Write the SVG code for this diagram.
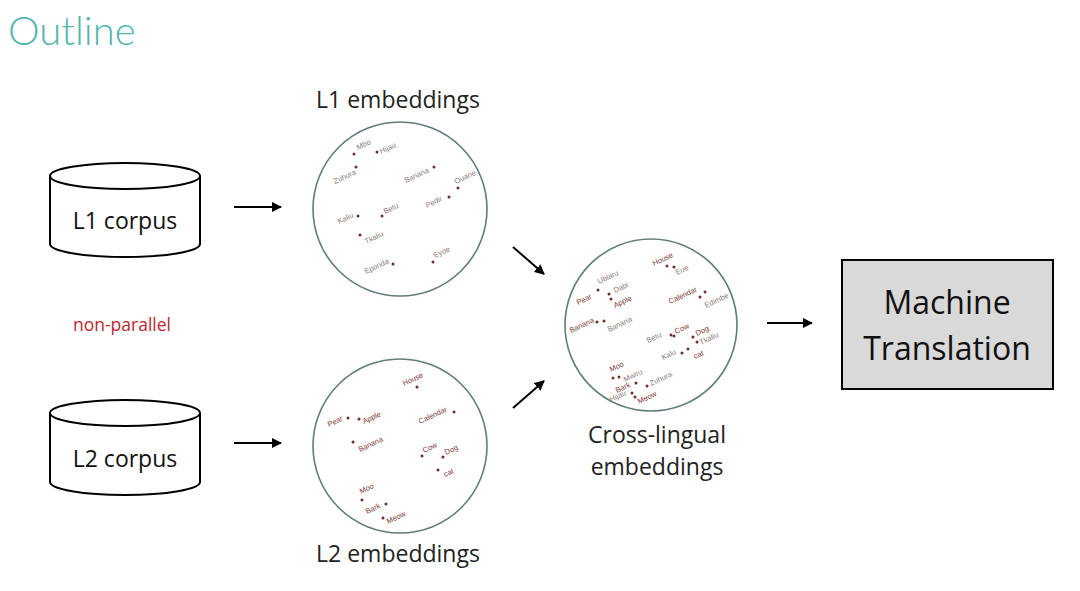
<svg xmlns="http://www.w3.org/2000/svg" width="1080" height="591" viewBox="0 0 1080 591">
<style>
.title{font-family:"Lato","Open Sans",sans-serif;font-weight:300;font-size:40px;fill:#52b6b0}
.lbl{font-family:"Open Sans","Liberation Sans",sans-serif;font-size:23px;fill:#222}
.corp{font-family:"Open Sans","Liberation Sans",sans-serif;font-size:23px;fill:#111;text-anchor:middle}
.mt{font-family:"Open Sans","Liberation Sans",sans-serif;font-size:32px;fill:#111;text-anchor:middle}
.np{font-family:"Open Sans","Liberation Sans",sans-serif;font-size:17.5px;fill:#c0262c}
.cyl{fill:#fff;stroke:#000;stroke-width:2}
.emb{fill:#fff;stroke:#5f7d7a;stroke-width:1.6}
.w{font-family:"Liberation Sans",sans-serif;font-size:7.5px;fill:#7a3a35}
.g{font-family:"Liberation Sans",sans-serif;font-size:7.5px;fill:#8a7a78}
.d{fill:#6b2e2a}
.conn line{stroke:#000;stroke-width:2;marker-end:url(#ah)}
</style>
<defs>
<marker id="ah" viewBox="0 0 10 10" refX="9" refY="5" markerWidth="5" markerHeight="5" orient="auto" markerUnits="strokeWidth">
<path d="M0,0 L10,5 L0,10 z" fill="#000"/>
</marker>
</defs>
<rect width="1080" height="591" fill="#fff"/>
<text class="title" x="8" y="45">Outline</text>

<g id="l1corpus">
<path class="cyl" d="M50,176 V244 A75,13 0 0 0 200,244 V176"/>
<ellipse class="cyl" cx="125" cy="176" rx="75" ry="13"/>
<text class="corp" x="125" y="229">L1 corpus</text>
</g>
<g id="l2corpus">
<path class="cyl" d="M50,413 V482 A75,13 0 0 0 200,482 V413"/>
<ellipse class="cyl" cx="125" cy="413" rx="75" ry="13"/>
<text class="corp" x="125" y="467">L2 corpus</text>
</g>
<g id="nonparallel"><text class="np" x="73" y="331">non-parallel</text></g>

<g id="l1emb">
<text class="lbl" x="398" y="108" text-anchor="middle">L1 embeddings</text>
<circle class="emb" cx="400" cy="209" r="87"/>
<g class="d">
<circle cx="354" cy="154" r="1.5"/><circle cx="377" cy="152" r="1.5"/><circle cx="356" cy="167" r="1.5"/>
<circle cx="434" cy="167" r="1.5"/><circle cx="458" cy="188" r="1.5"/><circle cx="449" cy="197" r="1.5"/>
<circle cx="358" cy="216" r="1.5"/><circle cx="382" cy="216" r="1.5"/><circle cx="360" cy="235" r="1.5"/>
<circle cx="393" cy="264" r="1.5"/><circle cx="433" cy="262" r="1.5"/>
</g>
<g class="g">
<text transform="translate(358,150) rotate(-25)">Mbo</text>
<text transform="translate(381,154) rotate(-25)">Hijau</text>
<text transform="translate(335,184) rotate(-25)">Zuhura</text>
<text transform="translate(406,183) rotate(-25)">Banana</text>
<text transform="translate(456,184) rotate(-25)">Ouane</text>
<text transform="translate(427,208) rotate(-25)">Pedir</text>
<text transform="translate(339,224) rotate(-25)">Kaliu</text>
<text transform="translate(385,214) rotate(-25)">Betu</text>
<text transform="translate(366,244) rotate(-25)">Tkaliu</text>
<text transform="translate(366,274) rotate(-25)">Eponda</text>
<text transform="translate(435,258) rotate(-25)">Eyoe</text>
</g>
</g>

<g id="l2emb">
<text class="lbl" x="398" y="562" text-anchor="middle">L2 embeddings</text>
<circle class="emb" cx="400" cy="446" r="87"/>
<g class="d">
<circle cx="417" cy="387" r="1.5"/><circle cx="348" cy="418" r="1.5"/><circle cx="359" cy="419" r="1.5"/>
<circle cx="353" cy="442" r="1.5"/><circle cx="454" cy="412" r="1.5"/><circle cx="422" cy="456" r="1.5"/>
<circle cx="443" cy="457" r="1.5"/><circle cx="438" cy="470" r="1.5"/><circle cx="362" cy="500" r="1.5"/>
<circle cx="386" cy="504" r="1.5"/><circle cx="383" cy="518" r="1.5"/>
</g>
<g class="w">
<text transform="translate(404,386) rotate(-25)">House</text>
<text transform="translate(329,427) rotate(-25)">Pear</text>
<text transform="translate(364,424) rotate(-25)">Apple</text>
<text transform="translate(360,452) rotate(-25)">Banana</text>
<text transform="translate(420,424) rotate(-25)">Calendar</text>
<text transform="translate(424,453) rotate(-25)">Cow</text>
<text transform="translate(446,455) rotate(-25)">Dog</text>
<text transform="translate(445,477) rotate(-25)">cat</text>
<text transform="translate(361,494) rotate(-25)">Moo</text>
<text transform="translate(367,514) rotate(-25)">Bark</text>
<text transform="translate(388,524) rotate(-25)">Meow</text>
</g>
</g>

<g id="crossemb">
<text class="lbl" x="657" y="443" text-anchor="middle">Cross-lingual</text>
<text class="lbl" x="657" y="475" text-anchor="middle">embeddings</text>
<circle class="emb" cx="651" cy="325" r="86"/>
<g class="d">
<circle cx="598" cy="290" r="1.5"/><circle cx="609" cy="294" r="1.5"/><circle cx="611" cy="299" r="1.5"/>
<circle cx="667" cy="266" r="1.5"/><circle cx="674" cy="267" r="1.5"/>
<circle cx="705" cy="292" r="1.5"/><circle cx="700" cy="297" r="1.5"/>
<circle cx="597" cy="322" r="1.5"/><circle cx="604" cy="321" r="1.5"/>
<circle cx="671" cy="335" r="1.5"/><circle cx="674" cy="336" r="1.5"/>
<circle cx="693" cy="337" r="1.5"/><circle cx="697" cy="342" r="1.5"/>
<circle cx="682" cy="353" r="1.5"/><circle cx="688" cy="349" r="1.5"/>
<circle cx="613" cy="378" r="1.5"/><circle cx="619" cy="377" r="1.5"/>
<circle cx="636" cy="383" r="1.5"/><circle cx="647" cy="386" r="1.5"/>
<circle cx="635" cy="397" r="1.5"/><circle cx="632" cy="393" r="1.5"/>
</g>
<g class="w">
<text transform="translate(578,305) rotate(-25)">Pear</text>
<text transform="translate(615,308) rotate(-25)">Apple</text>
<text transform="translate(654,266) rotate(-25)">House</text>
<text transform="translate(670,304) rotate(-25)">Calendar</text>
<text transform="translate(571,333) rotate(-25)">Banana</text>
<text transform="translate(676,334) rotate(-25)">Cow</text>
<text transform="translate(697,336) rotate(-25)">Dog</text>
<text transform="translate(695,359) rotate(-25)">cat</text>
<text transform="translate(611,372) rotate(-25)">Moo</text>
<text transform="translate(617,393) rotate(-25)">Bark</text>
<text transform="translate(639,404) rotate(-25)">Meow</text>
</g>
<g class="g">
<text transform="translate(599,284) rotate(-25)">Ublaru</text>
<text transform="translate(615,293) rotate(-25)">Dabi</text>
<text transform="translate(677,275) rotate(-25)">Eue</text>
<text transform="translate(706,308) rotate(-25)">Edimbe</text>
<text transform="translate(609,332) rotate(-25)">Banana</text>
<text transform="translate(648,343) rotate(-25)">Betu</text>
<text transform="translate(701,345) rotate(-25)">Tkaliu</text>
<text transform="translate(663,360) rotate(-25)">Kalu</text>
<text transform="translate(625,382) rotate(-25)">Mwiru</text>
<text transform="translate(651,386) rotate(-25)">Zuhura</text>
<text transform="translate(611,402) rotate(-25)">Hijau</text>
</g>
</g>

<g id="mt">
<rect x="842" y="260" width="211" height="129" fill="#d9d9d9" stroke="#000" stroke-width="2"/>
<text class="mt" x="947" y="314">Machine</text>
<text class="mt" x="947" y="360">Translation</text>
</g>

<g class="conn" id="connectors">
<line x1="234" y1="207" x2="281" y2="207"/>
<line x1="234" y1="443" x2="281" y2="443"/>
<line x1="513" y1="247" x2="544" y2="274"/>
<line x1="513" y1="408" x2="544" y2="381"/>
<line x1="767" y1="323" x2="812" y2="323"/>
</g>
</svg>
